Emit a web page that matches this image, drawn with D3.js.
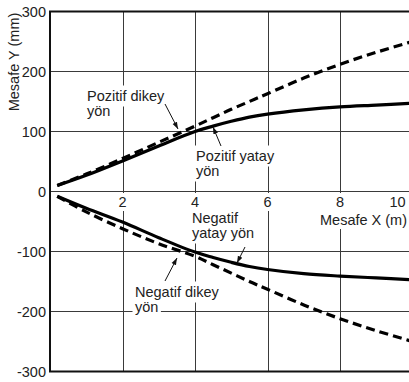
<!DOCTYPE html>
<html>
<head>
<meta charset="utf-8">
<script src="https://cdn.jsdelivr.net/npm/d3@7"></script>
<style>
  html, body { margin: 0; padding: 0; background: #fff; }
  svg { display: block; }
  text { font-family: "Liberation Sans", Arial, Helvetica, sans-serif; fill: #222; }
</style>
</head>
<body>
<svg id="chart" width="409" height="382"></svg>
<script>
// Distance along X (m)
const xs = [0.2, 1, 2, 3, 4, 4.5, 5, 5.5, 6, 7, 8, 9, 10];
// Deflection Y (mm) for each direction
const pozitifYatay = [10, 27, 51, 76, 100, 109, 117, 124, 129, 136, 141, 144, 147];
const pozitifDikey = [10, 29, 55, 82, 109, 123, 137, 150, 163, 189, 212, 232, 250];
const negatifYatay = [-8, -28, -51, -77, -101, -110, -118, -125, -130, -137, -141, -144, -147];
const negatifDikey = [-8, -34, -62, -87, -108, -122, -136, -150, -163, -189, -212, -232, -250];

const xTicks = [2, 4, 6, 8, 10];
const yTicks = [300, 200, 100, 0, -100, -200, -300];
const xGrid = [2, 4, 6, 8];
const yGrid = [200, 100, -100, -200];

const svg = d3.select("#chart");
const x = d3.scaleLinear().domain([0, 10]).range([50, 412.5]);
const y = d3.scaleLinear().domain([-300, 300]).range([371.5, 11.5]);

const gridG = svg.append("g");
const bgG = svg.append("g");
const lineG = svg.append("g");
const textG = svg.append("g");

// grid
gridG.selectAll("line.vx").data(xGrid).enter().append("line")
  .attr("x1", d => Math.round(x(d)) + 0.5).attr("x2", d => Math.round(x(d)) + 0.5)
  .attr("y1", y(300)).attr("y2", y(-300))
  .attr("stroke", "#3a3a3a").attr("stroke-width", 1);
gridG.selectAll("line.hy").data(yGrid).enter().append("line")
  .attr("x1", x(0)).attr("x2", 409)
  .attr("y1", d => y(d)).attr("y2", d => y(d))
  .attr("stroke", "#3a3a3a").attr("stroke-width", 1);
// zero line
gridG.append("line").attr("x1", x(0)).attr("x2", 409)
  .attr("y1", y(0)).attr("y2", y(0))
  .attr("stroke", "#3a3a3a").attr("stroke-width", 1);
// frame
gridG.append("path")
  .attr("d", `M409,${y(300)}H${x(0)}V${y(-300)}H409`)
  .attr("fill", "none").attr("stroke", "#111").attr("stroke-width", 2);

// y tick labels
textG.selectAll("text.yt").data(yTicks).enter().append("text")
  .attr("x", 46).attr("y", d => y(d) + 5)
  .attr("text-anchor", "end").attr("font-size", 14.5)
  .text(d => d);

// x tick labels
const xLab = textG.selectAll("text.xt").data(xTicks).enter().append("text")
  .attr("x", d => d === 10 ? x(d) - 15 : x(d)).attr("y", y(0) + 15.5)
  .attr("text-anchor", "middle").attr("font-size", 14.5)
  .text(d => d);

// axis titles
textG.append("text")
  .attr("transform", `translate(19,62) rotate(-90)`)
  .attr("text-anchor", "middle").attr("font-size", 14.5)
  .text("Mesafe Y (mm)");
const xTitle = textG.append("text")
  .attr("x", 407).attr("y", 225)
  .attr("text-anchor", "end").attr("font-size", 14.5)
  .text("Mesafe X (m)");

// annotations, one text element per line
const notes = [
  { lines: ["Pozitif dikey", "yön"], x: 87, y: 101 },
  { lines: ["Pozitif yatay", "yön"], x: 196, y: 161 },
  { lines: ["Negatif", "yatay yön"], x: 192, y: 223 },
  { lines: ["Negatif dikey", "yön"], x: 135, y: 297 }
];
const noteNodes = [];
notes.forEach(n => {
  n.lines.forEach((s, i) => {
    noteNodes.push(textG.append("text")
      .attr("x", n.x).attr("y", n.y + i * 15)
      .attr("font-size", 14.5).text(s));
  });
});

// white backings under labels so the grid breaks around them
function backing(node, pad) {
  const b = node.node().getBBox();
  bgG.append("rect")
    .attr("x", b.x - pad).attr("y", b.y - pad)
    .attr("width", b.width + 2 * pad).attr("height", b.height + 2 * pad)
    .attr("fill", "#fff");
}
xLab.each(function () { backing(d3.select(this), 1); });
backing(xTitle, 1);
noteNodes.forEach(n => backing(n, 2.5));

// curves
const series = [
  { v: pozitifYatay, dash: null },
  { v: pozitifDikey, dash: "9,5" },
  { v: negatifYatay, dash: null },
  { v: negatifDikey, dash: "9,5" }
];
const line = d3.line().x(d => x(d[0])).y(d => y(d[1])).curve(d3.curveCatmullRom.alpha(0.5));
series.forEach(s => {
  lineG.append("path")
    .attr("d", line(xs.map((xv, i) => [xv, s.v[i]])))
    .attr("fill", "none").attr("stroke", "#000")
    .attr("stroke-width", 3.2)
    .attr("stroke-dasharray", s.dash);
});

// leader arrows
const defs = svg.append("defs");
defs.append("marker").attr("id", "ah")
  .attr("viewBox", "0 0 10 10").attr("refX", 10).attr("refY", 5)
  .attr("markerWidth", 7).attr("markerHeight", 7).attr("orient", "auto")
  .append("path").attr("d", "M0,1.5L10,5L0,8.5Z").attr("fill", "#111");
const arrows = [
  [165, 104, 178, 129],
  [221, 146, 213, 127],
  [245, 247, 237, 263],
  [165, 281, 177, 258]
];
textG.selectAll("line.ar").data(arrows).enter().append("line")
  .attr("x1", d => d[0]).attr("y1", d => d[1])
  .attr("x2", d => d[2]).attr("y2", d => d[3])
  .attr("stroke", "#111").attr("stroke-width", 1)
  .attr("marker-end", "url(#ah)");
</script>
</body>
</html>
